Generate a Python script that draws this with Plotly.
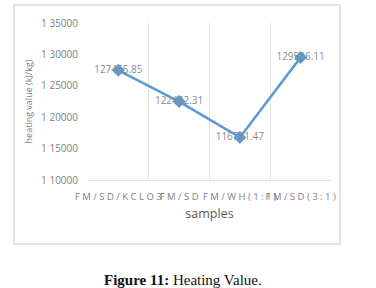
import plotly.graph_objects as go

samples = ["F M / S D / K C L O 3", "F M / S D", "F M / W H ( 1 : 1 )", "F M / S D ( 3 : 1 )"]
heating = [127465.85, 122482.31, 116781.47, 129526.11]
labels = ["127465.85", "122482.31", "116781.47", "129526.11"]
ytickvals = [110000, 115000, 120000, 125000, 130000, 135000]
yticktext = ["1 10000", "1 15000", "1 20000", "1 25000", "1 30000", "1 35000"]

L, R, T, B = 88, 45, 23, 108
W, H = 376, 288
pw, ph = W - L - R, H - T - B

def px(x):
    return (x - L) / pw

def py(y):
    return (H - B - y) / ph

fig = go.Figure()
fig.add_trace(go.Scatter(
    x=samples, y=heating, mode="lines+markers+text",
    text=labels, textposition="middle center",
    textfont=dict(family="Open Sans", size=10, color="#8c8c8c"),
    line=dict(color="#5b9bd5", width=2.5),
    marker=dict(symbol="diamond", size=10, color="#5b9bd5"),
    cliponaxis=False, showlegend=False,
))

fig.update_layout(
    width=W, height=H,
    margin=dict(l=L, r=R, t=T, b=B),
    paper_bgcolor="white", plot_bgcolor="white",
    xaxis=dict(
        type="category", range=[-0.5, 3.5], tickson="boundaries",
        showgrid=True, gridcolor="#e3e3e3", gridwidth=1,
        showline=True, linecolor="#e3e3e3", ticks="", tickangle=0,
        ticklabelstandoff=8,
        tickfont=dict(family="Open Sans", size=9.5, color="#7f7f7f"),
        title=dict(text="samples", font=dict(family="Open Sans", size=12.5, color="#595959"), standoff=6),
        fixedrange=True,
    ),
    yaxis=dict(
        range=[110000, 135000], tickvals=ytickvals, ticktext=yticktext,
        showgrid=False, zeroline=False, showline=False, ticks="",
        ticklabelstandoff=9,
        tickfont=dict(family="Open Sans", size=10, color="#7f7f7f"),
        title=dict(text="heating value (kJ/kg)", font=dict(family="Open Sans", size=9, color="#7f7f7f"), standoff=6),
        fixedrange=True,
    ),
    shapes=[dict(type="rect", xref="paper", yref="paper",
                 x0=px(14), x1=px(340), y0=py(244), y1=py(5),
                 line=dict(color="#dcdcdc", width=1.5), layer="below")],
    annotations=[dict(
        text="<b>Figure 11:</b> Heating Value.", xref="paper", yref="paper",
        x=px(183), y=py(280), xanchor="center", yanchor="middle", showarrow=False,
        font=dict(family="Liberation Serif", size=15, color="#111111"),
    )],
)

fig.write_html("out.html")
